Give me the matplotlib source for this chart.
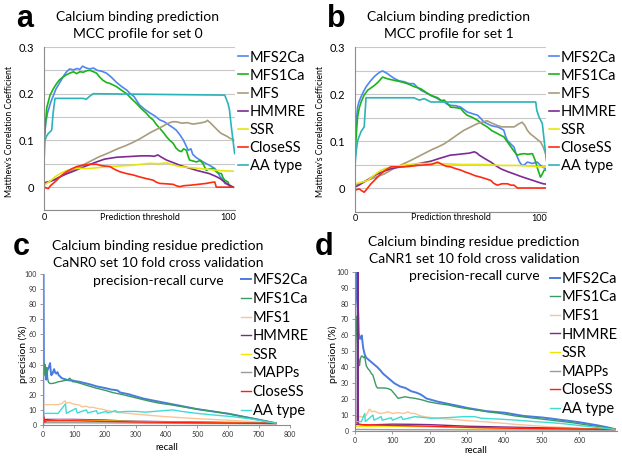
import numpy as np
import matplotlib
matplotlib.use("Agg")
import matplotlib.pyplot as plt

W, H = 622, 461
plt.rcParams['font.family'] = ['Lato', 'DejaVu Sans']

# ---- panel a: MCC profile, set 0 (threshold, MCC) ----
MCC_LABELS = ['MFS2Ca', 'MFS1Ca', 'MFS', 'HMMRE', 'SSR', 'CloseSS', 'AA type']
MCC_COLORS = ['#4f86f0', '#1ab41a', '#a89c7c', '#7d2a93', '#e5e510', '#ff2a12', '#2bb3b8']

A_MFS2CA = [(0, 0.10), (1, 0.14), (2, 0.16), (3.5, 0.18), (5, 0.195), (6.5, 0.21), (8, 0.22), (9.5, 0.23),
            (11, 0.24), (12.5, 0.248), (14, 0.253), (16, 0.251), (18, 0.254), (19.5, 0.252), (21, 0.259),
            (23, 0.255), (25, 0.253), (27, 0.255), (29, 0.25), (31.5, 0.248), (34, 0.244), (36.5, 0.236),
            (39, 0.226), (42, 0.216), (45, 0.208), (47, 0.2), (49, 0.194), (50.5, 0.185), (52, 0.176),
            (55, 0.166), (58, 0.158), (60.5, 0.152), (63, 0.144), (65.5, 0.14), (68, 0.133), (70, 0.128),
            (72, 0.122), (74, 0.112), (76, 0.100), (78.5, 0.079), (80, 0.082), (81, 0.070), (83, 0.063),
            (85, 0.058), (87.5, 0.052), (90, 0.047), (93, 0.040), (94.5, 0.032), (96, 0.022), (97.5, 0.015),
            (98.5, 0.008), (100, 0.006), (103, 0.0)]
A_MFS1CA = [(0, 0.09), (0.7, 0.13), (1.5, 0.17), (2.5, 0.185), (3.3, 0.197), (5, 0.21), (6.9, 0.222),
            (8.5, 0.23), (10.5, 0.236), (12, 0.24), (14, 0.244), (16, 0.247), (17.8, 0.243), (19.5, 0.247),
            (21.4, 0.246), (23, 0.249), (25, 0.25), (27, 0.247), (28.6, 0.244), (30, 0.237), (32, 0.229),
            (34, 0.224), (35.9, 0.222), (37.5, 0.219), (39.5, 0.215), (42, 0.208), (45, 0.2), (48, 0.188),
            (50.4, 0.179), (53, 0.168), (55.8, 0.158), (57.5, 0.15), (59.4, 0.144), (61, 0.135), (63, 0.126),
            (65, 0.117), (66.7, 0.108), (68.5, 0.1), (70.3, 0.094), (72, 0.083), (73.5, 0.078), (74.8, 0.076),
            (76, 0.082), (77.5, 0.079), (78.5, 0.066), (79.3, 0.058), (81, 0.056), (83, 0.054), (85, 0.057),
            (86.6, 0.05), (88.4, 0.036), (90, 0.039), (92, 0.04), (93.8, 0.033), (95, 0.03), (96.6, 0.029),
            (97.5, 0.02), (98.4, 0.015), (100.2, 0.011), (101, 0.002), (103, 0.0)]
A_MFS = [(0, 0.008), (5, 0.015), (10, 0.025), (15, 0.035), (20, 0.045), (25, 0.055), (30, 0.065), (35, 0.073),
         (40, 0.082), (44, 0.088), (48, 0.095), (52, 0.103), (55, 0.11), (58, 0.117), (62, 0.125), (65, 0.131),
         (67, 0.136), (70, 0.14), (72, 0.14), (75, 0.137), (78, 0.138), (81, 0.135), (83, 0.136), (86, 0.138),
         (88, 0.14), (89, 0.143), (90.5, 0.138), (92, 0.132), (93.5, 0.126), (95, 0.12), (96.5, 0.115),
         (98, 0.112), (100, 0.108), (101, 0.105), (103, 0.102)]
A_HMMRE = [(0, 0.009), (3, 0.012), (6, 0.016), (8.7, 0.022), (12, 0.028), (16, 0.034), (19.6, 0.04), (24, 0.047),
           (28.6, 0.054), (33, 0.06), (39.5, 0.064), (44, 0.065), (48.6, 0.066), (53, 0.067), (57.6, 0.067),
           (60, 0.066), (62, 0.069), (64, 0.064), (66.7, 0.058), (70, 0.053), (73.9, 0.047), (78, 0.042),
           (83, 0.036), (86, 0.033), (90, 0.029), (93, 0.024), (95.6, 0.019), (98, 0.012), (100, 0.006), (103, 0.0)]
A_SSR = [(0, 0.004), (3, 0.012), (6, 0.022), (8.7, 0.029), (12, 0.035), (15.9, 0.04), (20, 0.04), (25, 0.04),
         (30, 0.042), (34, 0.044), (40, 0.045), (48.6, 0.047), (53, 0.049), (57.6, 0.051), (62, 0.05),
         (66.7, 0.052), (70, 0.048), (73.9, 0.044), (79, 0.042), (84.8, 0.04), (90, 0.038), (93.8, 0.036),
         (98, 0.035), (103, 0.034)]
A_CLOSESS = [(0, 0.001), (1.2, -0.002), (2.4, -0.003), (3.5, 0.003), (5, 0.008), (7, 0.015), (8.7, 0.022),
             (10.5, 0.028), (12.3, 0.033), (15, 0.039), (17.8, 0.044), (21, 0.047), (25, 0.049), (28.6, 0.049),
             (31.3, 0.046), (33.5, 0.045), (35.9, 0.044), (38.5, 0.038), (41.3, 0.033), (45, 0.029),
             (48.6, 0.026), (52, 0.022), (56, 0.018), (59.4, 0.015), (61, 0.011), (63, 0.008), (67, 0.007),
             (70.3, 0.006), (72, 0.003), (73.9, 0.001), (76, 0.003), (79.3, 0.004), (84, 0.006), (88.4, 0.008),
             (91, 0.01), (93, 0.011), (93.8, 0.0), (103, 0.0)]
A_AATYPE = [(0, 0.05), (0.5, 0.1), (1.5, 0.11), (2.4, 0.115), (4.2, 0.122), (5, 0.16), (6, 0.19), (21.4, 0.19),
            (23, 0.188), (25, 0.195), (26.8, 0.2), (98.4, 0.197), (100.2, 0.179), (101, 0.165), (102, 0.129),
            (103.8, 0.072)]

# ---- panel b: MCC profile, set 1 ----
B_MFS2CA = [(0, 0.09), (0.7, 0.14), (1.4, 0.172), (2.3, 0.185), (3.3, 0.194), (4.6, 0.205), (6, 0.215),
            (7.3, 0.222), (8.7, 0.229), (10.5, 0.237), (12.3, 0.243), (13.7, 0.247), (15, 0.249), (16.5, 0.246),
            (17.8, 0.243), (19.5, 0.238), (21.4, 0.233), (24, 0.228), (26.8, 0.226), (29.5, 0.222), (32, 0.222),
            (34, 0.214), (35.9, 0.208), (38.5, 0.203), (41.3, 0.197), (43, 0.194), (45, 0.19), (47, 0.185),
            (48.6, 0.183), (50.3, 0.178), (52, 0.176), (55, 0.175), (57.6, 0.172), (59.3, 0.167), (61, 0.162),
            (64, 0.158), (66.7, 0.155), (68.5, 0.148), (70.3, 0.14), (72, 0.137), (74, 0.133), (76, 0.131),
            (77.5, 0.13), (79.3, 0.127), (81, 0.123), (82, 0.11), (83, 0.101), (85, 0.093), (86.6, 0.087),
            (87.5, 0.075), (88.4, 0.066), (89.5, 0.056), (91, 0.048), (92.5, 0.05), (93.8, 0.055), (95, 0.054),
            (96.6, 0.052), (98, 0.054), (99.3, 0.055), (100.5, 0.05), (102, 0.045), (103.8, 0.041)]
B_MFS1CA = [(0, 0.06), (0.5, 0.1), (1, 0.13), (1.4, 0.151), (2.3, 0.17), (3.3, 0.183), (5, 0.198), (6.9, 0.208),
            (8.7, 0.213), (10.5, 0.218), (12.5, 0.225), (15, 0.236), (18, 0.232), (21.4, 0.229), (25, 0.226),
            (28.6, 0.222), (32, 0.216), (35.9, 0.211), (38.5, 0.204), (41.3, 0.197), (45, 0.192), (47, 0.186),
            (48.6, 0.187), (50.3, 0.18), (52, 0.172), (55, 0.171), (57.6, 0.169), (59.3, 0.161), (61, 0.155),
            (64, 0.15), (66.7, 0.144), (69, 0.137), (72, 0.13), (74.5, 0.122), (77.5, 0.116), (79.3, 0.112),
            (81, 0.109), (83, 0.098), (85, 0.087), (86.6, 0.078), (88.4, 0.07), (90, 0.072), (92, 0.073),
            (94, 0.072), (96.6, 0.073), (98, 0.06), (99.5, 0.04), (101, 0.023), (102, 0.03), (103, 0.038),
            (104.7, 0.038)]
B_MFS = [(0, 0.006), (4, 0.012), (8, 0.018), (12, 0.024), (16, 0.03), (20, 0.039), (25, 0.049), (30, 0.058),
         (34, 0.066), (38, 0.074), (42, 0.082), (45, 0.087), (48.6, 0.094), (52, 0.103), (56, 0.114),
         (59.4, 0.123), (62, 0.128), (64.5, 0.133), (66.7, 0.137), (69, 0.14), (72, 0.143), (74, 0.139),
         (77.5, 0.133), (80, 0.13), (83, 0.13), (86.6, 0.13), (89, 0.136), (91, 0.14), (92.5, 0.133),
         (93.8, 0.123), (95.5, 0.115), (97.5, 0.109), (99, 0.104), (101, 0.098), (102.5, 0.087), (103.8, 0.073),
         (104.7, 0.052)]
B_HMMRE = [(0, 0.002), (2.5, 0.007), (5, 0.013), (8.7, 0.022), (12.3, 0.03), (16, 0.036), (19.6, 0.041),
           (25, 0.045), (30.4, 0.048), (36, 0.053), (41.3, 0.057), (46, 0.063), (52, 0.07), (55, 0.071),
           (59.4, 0.073), (62, 0.074), (65, 0.077), (66.5, 0.074), (67.6, 0.07), (70.5, 0.063), (74, 0.055),
           (76.5, 0.048), (79.3, 0.041), (83, 0.035), (86.6, 0.03), (90, 0.025), (93.8, 0.02), (97, 0.016),
           (100, 0.012), (102.5, 0.009), (104.7, 0.008)]
B_SSR = [(0, 0.009), (3.5, 0.012), (6.9, 0.016), (10, 0.026), (13, 0.035), (16, 0.041), (20, 0.045), (25, 0.048),
         (30, 0.05), (34, 0.052), (40, 0.052), (45, 0.052), (52, 0.051), (57.6, 0.05), (64, 0.05), (70.3, 0.05),
         (75, 0.049), (79.3, 0.048), (84, 0.048), (88.4, 0.048), (93, 0.047), (97.5, 0.046), (101, 0.045),
         (104.7, 0.045)]
B_CLOSESS = [(0, -0.005), (1.2, -0.003), (2.4, -0.002), (3.7, -0.006), (5, -0.009), (6.5, -0.002), (8.7, 0.009),
             (11, 0.018), (14, 0.03), (16.5, 0.038), (19.6, 0.045), (23, 0.045), (26.8, 0.045), (30, 0.046),
             (34, 0.048), (37.5, 0.049), (41.3, 0.05), (43, 0.052), (45, 0.055), (46.5, 0.052), (48.6, 0.048),
             (50, 0.046), (52, 0.045), (55, 0.041), (57.6, 0.038), (60, 0.034), (63, 0.03), (65.5, 0.026),
             (68.5, 0.023), (71, 0.02), (74, 0.016), (75.5, 0.01), (77.5, 0.006), (80, 0.009), (83, 0.009),
             (85, 0.006), (86.6, 0.006), (88.4, 0.0), (104.7, 0.0)]
B_AATYPE = [(0, 0.048), (0.7, 0.08), (1.4, 0.1), (2.3, 0.11), (3.3, 0.12), (5, 0.13), (6, 0.192), (32, 0.192),
            (35, 0.187), (37.7, 0.19), (41.3, 0.183), (98.4, 0.183), (99, 0.165), (100.2, 0.151), (102, 0.137),
            (103.4, 0.087), (104.7, 0.045)]

# ---- panels c, d: precision-recall (recall, precision %) ----
PR_LABELS = ['MFS2Ca', 'MFS1Ca', 'MFS1', 'HMMRE', 'SSR', 'MAPPs', 'CloseSS', 'AA type']
PR_COLORS = ['#4a7be0', '#3a9a64', '#fbc495', '#7a2a8a', '#f2e600', '#9a9a9a', '#ff1e10', '#3ddcd5']

C_MFS2CA = [(0, 0), (0, 100), (1, 40), (2, 38), (5, 40), (8, 33), (10, 30), (13, 36), (15, 37), (19, 39),
            (22, 41), (24, 36), (26, 33), (30, 34), (35, 37), (38, 35), (42, 34), (46, 35), (50, 33), (55, 32),
            (60, 31), (68, 30.5), (75, 30), (85, 29.5), (95, 29.5), (105, 29), (115, 28.7), (130, 28), (150, 27),
            (175, 25.5), (200, 24.5), (220, 23.5), (240, 23), (250, 21.5), (275, 20.5), (300, 19), (325, 17.5),
            (350, 16.5), (375, 15.5), (400, 14.5), (425, 13.5), (450, 12.5), (475, 11.5), (500, 10.5), (550, 9),
            (600, 7.5), (650, 5.5), (700, 3.5), (755, 1.2)]
C_MFS1CA = [(0, 0), (0, 30), (2, 41), (4, 36), (6, 33), (9, 38), (12, 38), (14, 31), (16, 29), (18, 28),
            (22, 27.5), (30, 27.5), (40, 28), (50, 28.7), (60, 29), (70, 29.5), (80, 30), (86, 31), (90, 30),
            (95, 28.7), (105, 28.5), (120, 27.6), (145, 26), (170, 24.5), (200, 23), (225, 21.5), (260, 20),
            (300, 18), (340, 16), (375, 14.5), (410, 13.5), (440, 12.5), (470, 11.5), (500, 10.5), (550, 9),
            (600, 7.5), (650, 5.5), (700, 3.5), (755, 1.2)]
C_MFS1 = [(0, 13.5), (25, 13.5), (50, 13.5), (62, 14.5), (70, 16), (75, 14.5), (85, 15), (95, 14), (110, 13.5),
          (120, 13), (125, 12), (140, 12.5), (150, 11.5), (160, 11.8), (175, 11), (190, 10.5), (200, 10),
          (220, 9), (260, 8), (300, 7.2), (350, 6.3), (400, 5.5), (450, 4.8), (500, 4.2), (600, 3.2), (700, 2),
          (755, 1.2)]
C_HMMRE = [(0, 0), (0, 8), (3, 2), (8, 3.7), (50, 3.7), (100, 3.7), (150, 3.5), (200, 3.3), (250, 2.8),
           (300, 2.5), (400, 2.2), (500, 2), (600, 1.7), (755, 1.2)]
C_SSR = [(0, 2.5), (20, 3), (50, 3.3), (100, 3.2), (150, 3), (200, 2.8), (300, 2.3), (400, 2), (500, 1.7),
         (600, 1.4), (755, 1)]
C_MAPPS = [(0, 1.5), (100, 1.5), (300, 1.3), (500, 1), (755, 0.8)]
C_CLOSESS = [(0, 1), (2, 5), (5, 2), (10, 2.8), (100, 2.8), (200, 2.4), (300, 2), (400, 1.8), (500, 1.5),
             (600, 1.3), (755, 1)]
C_AATYPE = [(0, 7.7), (48, 7.7), (72, 14), (75, 7.7), (106, 11), (110, 8), (140, 10), (144, 8), (173, 9.5),
            (176, 7.5), (205, 9), (208, 8), (235, 9.5), (240, 8.5), (270, 9), (300, 9), (330, 8.5), (360, 9),
            (390, 9.5), (420, 10), (450, 9), (480, 8.2), (508, 7.5), (560, 6.5), (616, 5.5), (681, 3.8),
            (755, 1.2)]

D_MFS2CA = [(0, 0), (1, 100), (3, 100), (5, 85), (7, 80), (9, 73), (10, 62), (12, 58), (15, 58), (18, 60),
            (20, 56), (22, 52), (26, 48), (30, 46), (35, 45), (40, 44), (45, 43), (50, 42), (55, 41), (60, 40),
            (68, 38), (75, 36), (85, 34), (95, 32), (105, 30), (120, 28), (135, 27), (150, 25), (165, 24),
            (175, 23), (185, 21.5), (190, 20.5), (205, 19.5), (220, 18.5), (250, 17), (275, 15.8), (300, 14.5),
            (325, 13.5), (350, 12.5), (375, 12), (400, 11.5), (425, 10.5), (450, 9.5), (475, 9), (500, 8.5),
            (525, 7.8), (550, 7), (575, 6.3), (600, 5.5), (625, 4.5), (650, 3.5), (675, 2.3), (695, 1.2)]
D_MFS1CA = [(0, 0), (2, 60), (3, 72), (4, 65), (6, 60), (8, 50), (10, 44), (12, 41), (14, 45), (17, 47),
            (20, 47), (23, 46), (26, 46.7), (30, 41), (35, 39), (39, 38), (44, 36), (48, 35), (53, 31), (57, 28),
            (60, 27), (70, 27), (80, 27), (90, 26.5), (97, 25.7), (105, 23.5), (115, 20.5), (125, 21),
            (133, 21.5), (145, 21), (160, 20.5), (180, 19.5), (195, 18.4), (220, 17.3), (250, 16.3), (275, 15),
            (300, 14), (330, 13), (356, 12), (390, 11), (427, 9.5), (455, 8.7), (480, 8), (510, 7.2),
            (534, 6.5), (560, 5.8), (587, 5), (620, 3.8), (659, 2.5), (695, 1.2)]
D_MFS1 = [(0, 9), (26, 9), (30, 10), (35, 12.1), (39, 13.8), (45, 12), (52, 12.5), (60, 11.5), (70, 11),
          (80, 11.5), (88, 12.1), (100, 11), (115, 11.5), (130, 11), (142, 12), (150, 11), (159, 11), (175, 9.5),
          (186, 9), (213, 8), (249, 7.5), (300, 6.5), (338, 5.9), (400, 4.8), (427, 4.2), (470, 3.5),
          (516, 2.7), (560, 2.2), (605, 1.7), (695, 1)]
D_HMMRE = [(0, 4), (6, 4), (7, 100), (8, 100), (9, 4), (30, 3.5), (60, 4), (100, 4.3), (150, 4.2), (200, 4),
           (250, 3.5), (300, 3), (400, 2.5), (500, 2), (600, 1.5), (695, 1)]
D_SSR = [(0, 3), (50, 3), (100, 3), (200, 2.6), (300, 2), (400, 1.7), (500, 1.4), (600, 1.2), (695, 1)]
D_MAPPS = [(0, 1), (100, 0.8), (300, 0.7), (500, 0.6), (695, 0.5)]
D_CLOSESS = [(0, 5.5), (3, 6), (8, 4.5), (20, 4), (50, 3.8), (100, 3.5), (200, 3), (300, 2.3), (400, 1.8),
             (500, 1.5), (600, 1.2), (695, 1)]
D_AATYPE = [(0, 5.9), (17, 5.9), (26, 11), (27.6, 5.9), (48, 10), (50.8, 6.8), (70, 9), (73, 6.8), (97, 8.3),
            (100, 6.8), (124, 9), (128, 7.2), (160, 9), (204, 8), (249, 8.4), (290, 9), (320, 9), (338, 8),
            (382, 7.5), (427, 6.9), (480, 5.9), (516, 5.4), (560, 4.5), (605, 3.3), (650, 2.2), (695, 1)]

fig = plt.figure(figsize=(W / 100, H / 100), dpi=100)


def axes_px(left, top, right, bottom):
    return fig.add_axes([left / W, 1 - bottom / H, (right - left) / W, (bottom - top) / H])


def text_px(x, y, s, **kw):
    return fig.text(x / W, 1 - y / H, s, **kw)


def add_legend(ax, x, y, spacing):
    ax.legend(loc='upper left', bbox_to_anchor=(x / W, 1 - y / H), bbox_transform=fig.transFigure,
              frameon=False, fontsize=10.5, handlelength=0.7, handletextpad=0.1, borderpad=0,
              borderaxespad=0, labelspacing=spacing)


def mcc_panel(box, series, letter, title2, ylab_x, leg_x):
    ax = axes_px(*box)
    for pts, lab, col in zip(series, MCC_LABELS, MCC_COLORS):
        t, v = np.array(pts).T
        ax.plot(t, v, color=col, lw=1.2, label=lab)
    ax.set_xlim(0, 104)
    ax.set_ylim(-0.05, 0.3)
    yt = np.round(np.arange(-0.05, 0.301, 0.05), 2)
    ax.set_yticks(yt)
    ax.set_yticklabels(['' if abs(round(v * 20)) % 2 else ('0' if v == 0 else '%g' % v) for v in yt])
    ax.set_xticks([0, 100])
    ax.set_xticklabels(['0', '100'])
    ax.yaxis.grid(True, color='#c8c8c8', lw=0.8)
    ax.set_axisbelow(True)
    ax.tick_params(axis='y', length=0, labelsize=8, pad=7)
    ax.tick_params(axis='x', length=0, labelsize=6.5, pad=2)
    for s in ['top', 'right']:
        ax.spines[s].set_visible(False)
    for s in ['left', 'bottom']:
        ax.spines[s].set_color('#8c8c8c')
        ax.spines[s].set_linewidth(0.8)
    x0, x1 = box[0], box[2]
    cx = (x0 + x1) / 2 - 2
    text_px(box[0] - 28, 27, letter, fontsize=22, fontweight='bold', family='Liberation Sans', ha='left',
            va='baseline')
    text_px(cx, 20.7, 'Calcium binding prediction', fontsize=10, ha='center', va='baseline')
    text_px(cx, 37.7, title2, fontsize=10, ha='center', va='baseline')
    text_px(ylab_x, 131, "Matthew's Correlation Coefficient", fontsize=6.3, rotation=90, ha='center',
            va='center')
    text_px((x0 + x1) / 2, 217, 'Prediction threshold', fontsize=6.5, ha='center', va='center')
    add_legend(ax, leg_x, 50.5, 0.28)
    return ax


def pr_panel(box, series, xmax, xt_max, letter_xy, titles, title_x, base_y, ylab_x, rec_xy, leg_xy):
    ax = axes_px(*box)
    for pts, lab, col in zip(series, PR_LABELS, PR_COLORS):
        r, p = np.array(pts).T
        ax.plot(r, p, color=col, lw=1.4 if lab == 'MFS2Ca' else 1.0, label=lab)
    ax.set_xlim(0, xmax)
    ax.set_ylim(0, 100)
    ax.set_yticks(np.arange(0, 101, 10))
    ax.set_xticks(np.arange(0, xt_max + 1, 100))
    ax.tick_params(direction='out', length=2.5, width=0.6, color='#8c8c8c', labelsize=5, labelcolor='#333333',
                   pad=2)
    for s in ['top', 'right']:
        ax.spines[s].set_visible(False)
    for s in ['left', 'bottom']:
        ax.spines[s].set_color('#8c8c8c')
        ax.spines[s].set_linewidth(0.8)
    text_px(letter_xy[0], letter_xy[1], letter_xy[2], fontsize=22, fontweight='bold', family='Liberation Sans',
            ha='left', va='baseline')
    for i, t in enumerate(titles):
        text_px(title_x, base_y + i * 17.3, t, fontsize=10, ha='center', va='baseline')
    text_px(ylab_x, 354, 'precision (%)', fontsize=7.5, rotation=90, ha='center', va='center')
    text_px(rec_xy[0], rec_xy[1], 'recall', fontsize=7, ha='center', va='center')
    add_legend(ax, leg_xy[0], leg_xy[1], 0.315)
    return ax


mcc_panel((44, 47, 235, 210.5), [A_MFS2CA, A_MFS1CA, A_MFS, A_HMMRE, A_SSR, A_CLOSESS, A_AATYPE],
          'a', 'MCC profile for set 0', 9.5, 238)
mcc_panel((355, 47, 546, 211.5), [B_MFS2CA, B_MFS1CA, B_MFS, B_HMMRE, B_SSR, B_CLOSESS, B_AATYPE],
          'b', 'MCC profile for set 1', 320.5, 549)

pr_panel((43.3, 274, 289.7, 425),
         [C_MFS2CA, C_MFS1CA, C_MFS1, C_HMMRE, C_SSR, C_MAPPS, C_CLOSESS, C_AATYPE],
         800, 800, (12.5, 255, 'c'),
         ['Calcium binding residue prediction', 'CaNR0 set 10 fold cross validation', 'precision-recall curve'],
         158, 250, 23, (166.5, 447), (241, 273.5))
pr_panel((355, 271.7, 616.8, 431),
         [D_MFS2CA, D_MFS1CA, D_MFS1, D_HMMRE, D_SSR, D_MAPPS, D_CLOSESS, D_AATYPE],
         700, 600, (315, 255, 'd'),
         ['Calcium binding residue prediction', 'CaNR1 set 10 fold cross validation', 'precision-recall curve'],
         474, 245.7, 333, (475.5, 450), (550, 271.8))

fig.savefig('out.png', dpi=100)
